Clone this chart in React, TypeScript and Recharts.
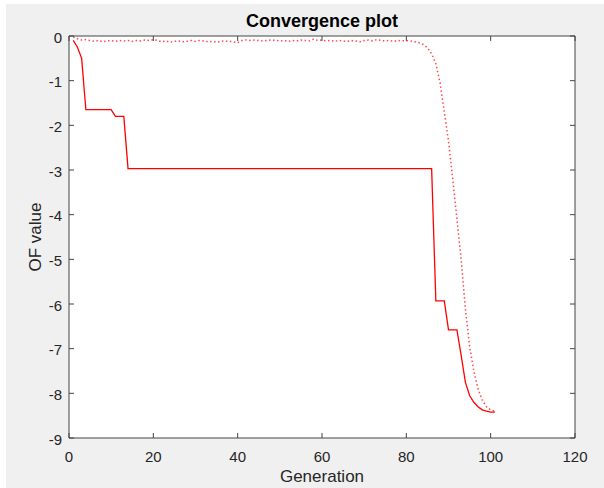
import { LineChart, Line, XAxis, YAxis, CartesianGrid } from 'recharts';

// best-so-far objective value per generation (solid)
const bestOF = [
  -0.1, -0.25, -0.5, -1.65, -1.65, -1.65, -1.65, -1.65, -1.65, -1.65,
  -1.8, -1.8, -1.8, -2.97, -2.97, -2.97, -2.97, -2.97, -2.97, -2.97,
  -2.97, -2.97, -2.97, -2.97, -2.97, -2.97, -2.97, -2.97, -2.97, -2.97,
  -2.97, -2.97, -2.97, -2.97, -2.97, -2.97, -2.97, -2.97, -2.97, -2.97,
  -2.97, -2.97, -2.97, -2.97, -2.97, -2.97, -2.97, -2.97, -2.97, -2.97,
  -2.97, -2.97, -2.97, -2.97, -2.97, -2.97, -2.97, -2.97, -2.97, -2.97,
  -2.97, -2.97, -2.97, -2.97, -2.97, -2.97, -2.97, -2.97, -2.97, -2.97,
  -2.97, -2.97, -2.97, -2.97, -2.97, -2.97, -2.97, -2.97, -2.97, -2.97,
  -2.97, -2.97, -2.97, -2.97, -2.97, -2.97, -5.93, -5.93, -5.93, -6.58,
  -6.58, -6.58, -7.15, -7.75, -8.05, -8.2, -8.3, -8.37, -8.4, -8.42,
  -8.42,
];

// mean objective value of the population (dotted)
const meanOF = [
  -0.02, -0.06, -0.09, -0.08, -0.1, -0.12, -0.1, -0.13, -0.11, -0.1,
  -0.12, -0.1, -0.11, -0.1, -0.12, -0.1, -0.11, -0.09, -0.1, -0.08,
  -0.1, -0.13, -0.11, -0.14, -0.12, -0.11, -0.13, -0.12, -0.1, -0.12,
  -0.1, -0.11, -0.13, -0.12, -0.14, -0.12, -0.11, -0.12, -0.13, -0.15,
  -0.1, -0.09, -0.1, -0.09, -0.1, -0.11, -0.1, -0.09, -0.1, -0.11,
  -0.1, -0.12, -0.1, -0.11, -0.09, -0.1, -0.11, -0.07, -0.1, -0.09,
  -0.11, -0.1, -0.12, -0.1, -0.11, -0.12, -0.1, -0.11, -0.13, -0.1,
  -0.09, -0.11, -0.08, -0.1, -0.11, -0.1, -0.12, -0.1, -0.11, -0.1,
  -0.11, -0.13, -0.15, -0.19, -0.26, -0.4, -0.62, -1.05, -1.7, -2.35,
  -3.2, -4.1, -5.0, -6.1, -6.95, -7.5, -7.9, -8.15, -8.3, -8.37,
  -8.4,
];

const xTicks = [0, 20, 40, 60, 80, 100, 120];
const yTicks = [0, -1, -2, -3, -4, -5, -6, -7, -8, -9];

const data = bestOF.map((v, i) => ({ gen: i + 1, best: v, mean: meanOF[i] }));

const INK = '#262626';
const AXIS = '#454545';
const FONT = 'Arial, "Liberation Sans", Helvetica, sans-serif';

// MATLAB-style ticks point inward
function BottomTick({ x, y, payload }: any) {
  return (
    <g>
      <line x1={x} y1={y} x2={x} y2={y - 5} stroke={AXIS} />
      <text x={x} y={y + 24} textAnchor="middle" fill={INK} fontSize={15} fontFamily={FONT}>
        {payload.value}
      </text>
    </g>
  );
}

function LeftTick({ x, y, payload }: any) {
  return (
    <g>
      <line x1={x} y1={y} x2={x + 5} y2={y} stroke={AXIS} />
      <text x={x - 7} y={y + 6.5} textAnchor="end" fill={INK} fontSize={15} fontFamily={FONT}>
        {payload.value}
      </text>
    </g>
  );
}

function TopTick({ x, y }: any) {
  return <line x1={x} y1={y} x2={x} y2={y + 5} stroke={AXIS} />;
}

function RightTick({ x, y }: any) {
  return <line x1={x} y1={y} x2={x - 5} y2={y} stroke={AXIS} />;
}

export default function App() {
  return (
    <div style={{ position: 'absolute', left: 0, top: 0, width: 604, height: 488, background: '#fff' }}>
      <div style={{ position: 'absolute', left: 6, top: 4, width: 598, height: 484, background: '#f0f0f0' }} />
      <div style={{ position: 'absolute', left: 0, top: 0 }}>
        <LineChart
          width={604}
          height={488}
          data={data}
          margin={{ top: 35, right: 28, bottom: 0, left: 0 }}
        >
          <CartesianGrid fill="#fff" horizontal={false} vertical={false} />
          <XAxis
            dataKey="gen"
            type="number"
            domain={[0, 120]}
            ticks={xTicks}
            allowDataOverflow
            height={50}
            tickSize={0}
            tickMargin={0}
            tickLine={false}
            tick={<BottomTick />}
            axisLine={{ stroke: AXIS }}
            label={{ value: 'Generation', position: 'insideBottom', offset: 6, fill: INK, fontSize: 17, fontFamily: FONT }}
          />
          <XAxis
            xAxisId="top"
            dataKey="gen"
            orientation="top"
            type="number"
            domain={[0, 120]}
            ticks={xTicks}
            allowDataOverflow
            height={1}
            tickSize={0}
            tickMargin={0}
            tickLine={false}
            tick={<TopTick />}
            axisLine={{ stroke: AXIS }}
            label={{ value: 'Convergence plot', position: 'top', offset: 8, fill: '#000', fontSize: 18, fontWeight: 'bold', fontFamily: FONT }}
          />
          <YAxis
            type="number"
            domain={[-9, 0]}
            ticks={yTicks}
            allowDataOverflow
            width={69}
            tickSize={0}
            tickMargin={0}
            tickLine={false}
            tick={<LeftTick />}
            axisLine={{ stroke: AXIS }}
            label={{
              value: 'OF value',
              angle: -90,
              position: 'insideLeft',
              offset: 35,
              fill: INK,
              fontSize: 17,
              fontFamily: FONT,
              style: { textAnchor: 'middle' },
            }}
          />
          <YAxis
            yAxisId="right"
            orientation="right"
            type="number"
            domain={[-9, 0]}
            ticks={yTicks}
            allowDataOverflow
            width={1}
            tickSize={0}
            tickMargin={0}
            tickLine={false}
            tick={<RightTick />}
            axisLine={{ stroke: AXIS }}
          />
          <Line
            xAxisId="top"
            yAxisId="right"
            type="linear"
            dataKey="mean"
            stroke="#ff4a4a"
            strokeWidth={1.5}
            strokeDasharray="1.5 2.5"
            dot={false}
            isAnimationActive={false}
          />
          <Line
            type="linear"
            dataKey="best"
            stroke="#ff0000"
            strokeWidth={1.3}
            dot={false}
            isAnimationActive={false}
          />
        </LineChart>
      </div>
    </div>
  );
}
